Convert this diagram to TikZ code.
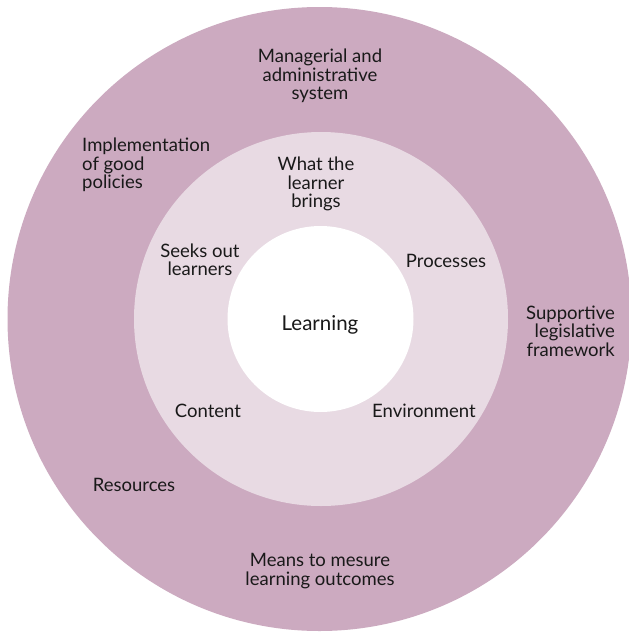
\documentclass[tikz,border=0pt]{standalone}
\usepackage{fontspec}
\setmainfont{Lato}
\definecolor{outerc}{RGB}{204,170,192}
\definecolor{midc}{RGB}{232,218,227}
\begin{document}
\begin{tikzpicture}[x=1pt,y=-1pt,
  lbl/.style={font=\fontsize{18.5}{18.5}\selectfont, align=center, inner sep=0pt, text=black!90},
  ring/.style={draw=none}]
\useasboundingbox (0,0) rectangle (629,632);
\fill[white] (0,0) rectangle (629,632);
\fill[outerc] (319.5,319) circle[radius=312];
\fill[midc] (321,319) circle[radius=187];
\fill[white] (320.5,319) circle[radius=93];
\node[lbl] (mgr) at (320,76) {Managerial and\\administrative\\system};
\node[lbl, align=left, anchor=west] (impl) at (82,165) {Implementation\\of good\\policies};
\node[lbl] (what) at (316,184) {What the\\learner\\brings};
\node[lbl] (seek) at (200,260) {Seeks out\\learners};
\node[lbl] (proc) at (446,261) {Processes};
\node[lbl, font=\fontsize{20.5}{20}\selectfont] (learn) at (320,325) {Learning};
\node[lbl, align=right, anchor=east] (supp) at (615,331) {Supportive\\legislative\\framework};
\node[lbl] (cont) at (208,411) {Content};
\node[lbl] (env) at (424,411) {Environment};
\node[lbl] (res) at (134,485) {Resources};
\node[lbl] (means) at (320,571) {Means to mesure\\learning outcomes};
\end{tikzpicture}
\end{document}
